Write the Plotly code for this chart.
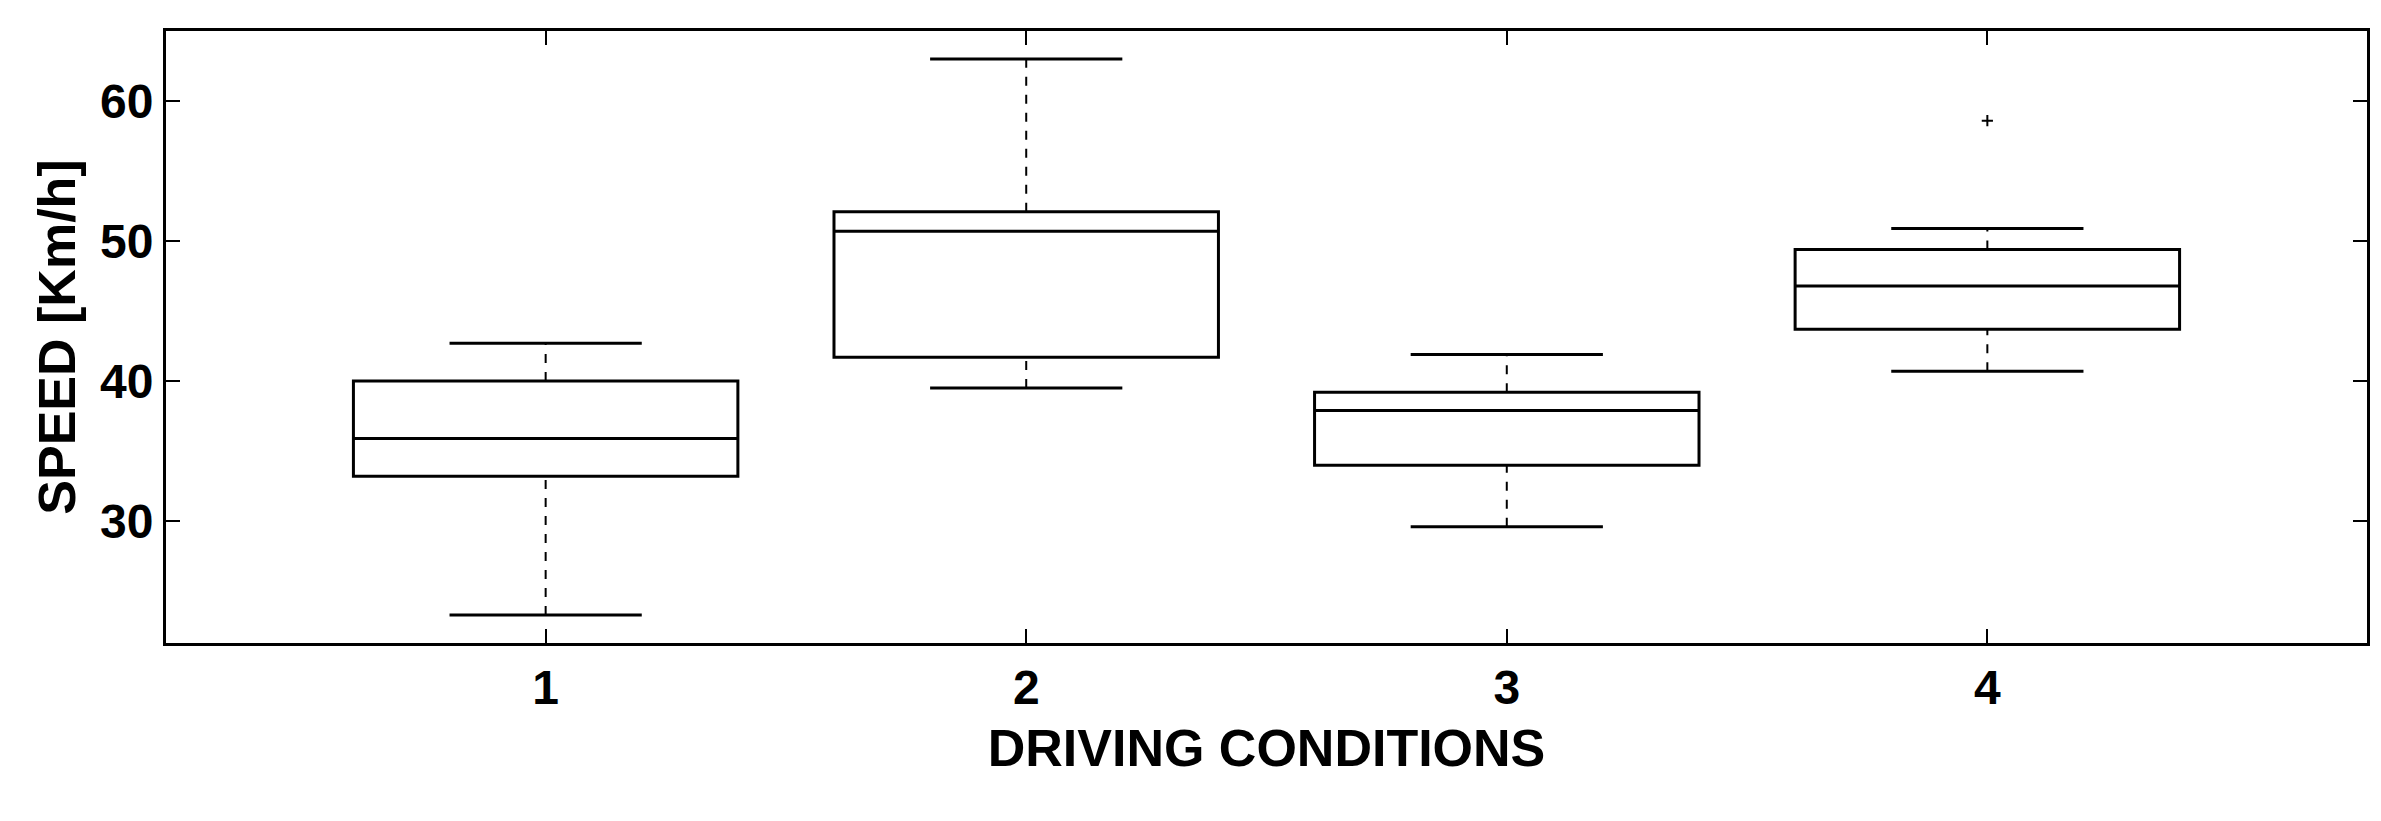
import plotly.graph_objects as go

conditions = [1, 2, 3, 4]
lower = [23.3, 39.5, 29.6, 40.7]
q1 = [33.2, 41.7, 34.0, 43.7]
median = [35.9, 50.7, 37.9, 46.8]
q3 = [40.0, 52.1, 39.2, 49.4]
upper = [42.7, 63.0, 41.9, 50.9]
outlier_x = [4]
outlier_y = [58.6]

BOXW = 0.8
CAPW = 0.4
fig = go.Figure()
for i, c in enumerate(conditions):
    fig.add_trace(go.Scatter(x=[c, c, None, c, c], y=[lower[i], q1[i], None, q3[i], upper[i]],
                             mode="lines", line=dict(color="black", width=2, dash="dash"),
                             showlegend=False, hoverinfo="skip"))
    fig.add_trace(go.Scatter(x=[c - CAPW/2, c + CAPW/2, None, c - CAPW/2, c + CAPW/2],
                             y=[lower[i], lower[i], None, upper[i], upper[i]],
                             mode="lines", line=dict(color="black", width=3),
                             showlegend=False, hoverinfo="skip"))
fig.add_trace(go.Box(x=conditions, q1=q1, median=median, q3=q3,
                     lowerfence=q1, upperfence=q3, width=BOXW,
                     fillcolor="white", line=dict(color="black", width=3),
                     whiskerwidth=0, boxpoints=False, showlegend=False))
fig.add_trace(go.Scatter(x=outlier_x, y=outlier_y, mode="markers",
                         marker=dict(symbol="cross-thin", size=8, color="black",
                                     line=dict(width=2, color="black")),
                         showlegend=False))

font = dict(family="Liberation Sans, Arial", color="black")
fig.update_layout(
    width=2381, height=821, plot_bgcolor="white", paper_bgcolor="white",
    margin=dict(l=158, r=22, t=23, b=186),
    font=font,
    xaxis=dict(range=[0.21, 4.79], tickvals=conditions, ticktext=[f"<b>{c}</b>" for c in conditions],
               ticks="inside", ticklen=14, tickwidth=2, tickcolor="black",
               showline=True, linecolor="black", linewidth=3, mirror="ticks",
               showgrid=False, zeroline=False, tickfont=dict(size=48),
               title=dict(text="<b>DRIVING CONDITIONS</b>", font=dict(size=52), standoff=18)),
    yaxis=dict(range=[21.3, 65], tickvals=[30, 40, 50, 60],
               ticktext=["<b>30</b>", "<b>40</b>", "<b>50</b>", "<b>60</b>"],
               ticks="inside", ticklen=14, tickwidth=2, tickcolor="black",
               showline=True, linecolor="black", linewidth=3, mirror="ticks",
               showgrid=False, zeroline=False, tickfont=dict(size=48),
               title=dict(text="<b>SPEED [Km/h]</b>", font=dict(size=52), standoff=8)),
)
fig.write_html("out.html")
